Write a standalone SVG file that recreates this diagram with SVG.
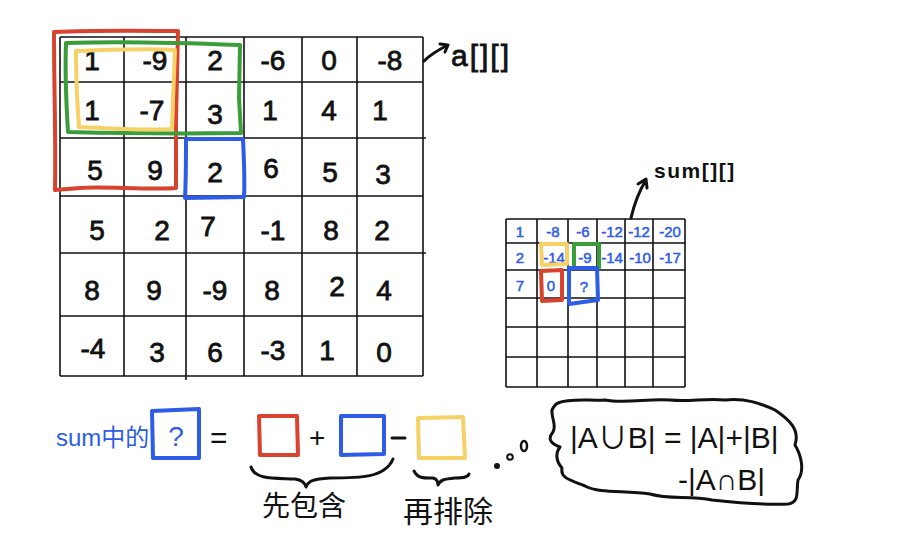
<svg xmlns="http://www.w3.org/2000/svg" width="900" height="556" viewBox="0 0 900 556">
<style>
.grid{stroke:#111;stroke-width:1.6;fill:none}
.num{font-family:"Liberation Sans",sans-serif;font-size:28px;fill:#111;text-anchor:middle;stroke:#111;stroke-width:0.8}
.snum{font-family:"Liberation Sans",sans-serif;font-size:15px;fill:#2d5ce8;text-anchor:middle;stroke:#2d5ce8;stroke-width:0.5}
.ink{stroke:#111;stroke-width:3;fill:none;stroke-linecap:round;stroke-linejoin:round}
.red{stroke:#d8432f;stroke-width:4;fill:none;stroke-linejoin:round;stroke-linecap:round}
.grn{stroke:#3a9d3a;stroke-width:4;fill:none;stroke-linejoin:round;stroke-linecap:round}
.yel{stroke:#f6d266;stroke-width:4;fill:none;stroke-linejoin:round;stroke-linecap:round}
.blu{stroke:#2d5ce8;stroke-width:4;fill:none;stroke-linejoin:round;stroke-linecap:round}
.lbl{font-family:"Liberation Sans","Noto Sans CJK SC",sans-serif;fill:#111}
</style>
<rect width="900" height="556" fill="#fff"/>
<g id="grid-a">
<path class="grid" d="M60,37H423M60,82H423M60,138H426M60,196H423M60,253H426M60,316H423M60,376H423M60,37V376M124,37V376M186,37V380M244,37V376M302,37V376M357,37V376M423,37V376"/>
<text class="num" x="92" y="70">1</text><text class="num" x="155" y="70">-9</text><text class="num" x="215" y="70">2</text><text class="num" x="273" y="70">-6</text><text class="num" x="329" y="70">0</text><text class="num" x="390" y="70">-8</text>
<text class="num" x="92" y="120">1</text><text class="num" x="152" y="120">-7</text><text class="num" x="215" y="124">3</text><text class="num" x="270" y="120">1</text><text class="num" x="329" y="120">4</text><text class="num" x="380" y="120">1</text>
<text class="num" x="95" y="180">5</text><text class="num" x="155" y="180">9</text><text class="num" x="215" y="182">2</text><text class="num" x="271" y="178">6</text><text class="num" x="330" y="182">5</text><text class="num" x="383" y="184">3</text>
<text class="num" x="97" y="240">5</text><text class="num" x="162" y="240">2</text><text class="num" x="208" y="236">7</text><text class="num" x="273" y="240">-1</text><text class="num" x="331" y="240">8</text><text class="num" x="382" y="240">2</text>
<text class="num" x="92" y="300">8</text><text class="num" x="154" y="300">9</text><text class="num" x="215" y="300">-9</text><text class="num" x="272" y="300">8</text><text class="num" x="337" y="296">2</text><text class="num" x="384" y="300">4</text>
<text class="num" x="93" y="358">-4</text><text class="num" x="157" y="362">3</text><text class="num" x="215" y="362">6</text><text class="num" x="273" y="360">-3</text><text class="num" x="327" y="360">1</text><text class="num" x="384" y="362">0</text>
</g>
<g id="boxes-a">
<path class="red" d="M54,32C100,30 150,31 178,31L176,120L176,188C150,190 100,186 80,188L55,190C56,140 54,90 54,32Z"/>
<path class="grn" d="M66,43C120,41 190,43 240,45L239,98L241,133C180,134 110,133 68,132C66,100 65,70 66,43Z"/>
<path class="yel" d="M76,51C110,50 150,48 175,50L173,100L172,129C140,131 110,128 79,127C77,100 76,75 76,51Z"/>
<path class="blu" d="M186,139L243,139C244,160 245,180 244,197L185,198C186,180 186,160 186,139Z"/>
</g>
<g id="label-a">
<path class="ink" d="M424,61C432,53 440,49 448,45M440,44L448,45L445,52"/>
<text class="lbl" x="451" y="66" font-size="30" letter-spacing="2" stroke="#111" stroke-width="0.8">a[][]</text>
</g>
<g id="grid-sum">
<path class="grid" d="M506,219H685M506,243H685M506,270H685M506,298H685M506,327H685M506,357H685M506,387H685M506,219V387M537,219V387M568,219V387M597,219V387M625,219V387M653,219V387M685,219V387"/>
<text class="snum" x="520" y="237">1</text><text class="snum" x="553" y="237">-8</text><text class="snum" x="583" y="237">-6</text><text class="snum" x="612" y="237">-12</text><text class="snum" x="639" y="237">-12</text><text class="snum" x="670" y="237">-20</text>
<text class="snum" x="520" y="263">2</text><text class="snum" x="554" y="263">-14</text><text class="snum" x="585" y="263">-9</text><text class="snum" x="612" y="263">-14</text><text class="snum" x="640" y="263">-10</text><text class="snum" x="670" y="263">-17</text>
<text class="snum" x="520" y="291">7</text><text class="snum" x="551" y="291">0</text><text class="snum" x="584" y="292" font-size="17">?</text>
<path class="yel" d="M541,244L567,244L567,264L542,265Z"/>
<path class="grn" d="M574,244L599,244L599,268L574,268Z"/>
<path class="red" d="M541,271L562,270L562,300L542,301Z"/>
<path class="blu" d="M569,268L597,268L598,300L569,304Z"/>
</g>
<g id="label-sum">
<path class="ink" d="M631,218C634,205 638,193 646,180M638,184L646,179L647,188"/>
<text class="lbl" x="654" y="178" font-size="21" font-weight="bold" letter-spacing="1.5">sum[][]</text>
</g>
<g id="formula">
<text class="lbl" x="56" y="446" font-size="24" style="fill:#2d5ce8">sum中的</text>
<path class="blu" d="M152,411L199,409L199,458L153,458Z"/>
<text class="lbl" x="176" y="446" font-size="28" style="fill:#2d5ce8" text-anchor="middle">?</text>
<text class="lbl" x="210" y="448" font-size="30">=</text>
<path class="red" d="M259,416L297,416L298,455L260,455Z"/>
<text class="lbl" x="309" y="447" font-size="28">+</text>
<path class="blu" d="M341,416L384,416L384,454L341,455Z"/>
<path class="ink" d="M392,438L405,438"/>
<path class="yel" d="M418,418L463,417L465,458L419,458Z"/>
<path class="ink" d="M251,467C255,480 275,478 295,479C302,480 305,483 306,487C308,481 313,479 330,478C360,478 385,478 393,459"/>
<path class="ink" d="M414,471C418,479 425,478 433,478C437,479 438,482 438,485C440,480 444,479 455,478C465,478 468,477 469,474"/>
<text class="lbl" x="262" y="516" font-size="28">先包含</text>
<text class="lbl" x="403" y="522" font-size="30">再排除</text>
<circle cx="497" cy="466" r="3" fill="#111"/>
<circle cx="510" cy="457" r="2.8" fill="none" stroke="#111" stroke-width="2"/>
<ellipse cx="524" cy="446" rx="3" ry="5" fill="none" stroke="#111" stroke-width="2.5"/>
</g>
<g id="bubble">
<path class="ink" d="M558,403C570,398 590,401 605,400C625,404 650,398 670,400C690,402 705,398 725,400C745,398 760,403 775,410C790,420 800,430 795,445C801,455 805,470 798,480C796,492 800,502 788,504C770,505 740,503 712,500C690,495 670,500 650,494C625,490 600,494 585,486C570,480 560,478 562,468C555,460 556,452 560,447C549,443 548,438 553,432C557,425 551,418 552,410C554,406 555,404 558,403Z"/>
<text class="lbl" x="570" y="448" font-size="30">|A∪B| = |A|+|B|</text>
<text class="lbl" x="678" y="490" font-size="30">-|A∩B|</text>
</g>
</svg>
